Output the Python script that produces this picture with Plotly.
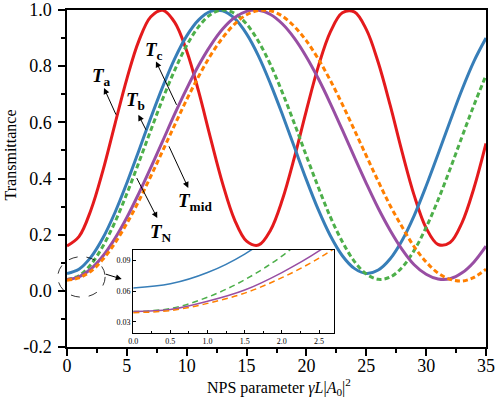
import plotly.graph_objects as go

# NPS parameter (main axis) at integer steps
nps_param = list(range(0, 36))

t_a = [0.160, 0.193, 0.288, 0.428, 0.593, 0.755, 0.890, 0.976, 0.999, 0.956,
       0.854, 0.709, 0.542, 0.382, 0.253, 0.177, 0.163, 0.216, 0.326, 0.476,
       0.643, 0.800, 0.922, 0.990, 0.993, 0.931, 0.813, 0.660, 0.493, 0.340,
       0.224, 0.165, 0.172, 0.243, 0.367, 0.525]
t_b = [0.062, 0.077, 0.120, 0.188, 0.278, 0.384, 0.499, 0.616, 0.727, 0.827,
       0.908, 0.965, 0.995, 0.997, 0.970, 0.915, 0.836, 0.737, 0.627, 0.511,
       0.395, 0.288, 0.196, 0.125, 0.080, 0.062, 0.074, 0.114, 0.180, 0.268,
       0.373, 0.487, 0.604, 0.717, 0.818, 0.900]
t_n = [0.040, 0.054, 0.094, 0.159, 0.244, 0.346, 0.457, 0.572, 0.684, 0.786,
       0.874, 0.941, 0.984, 1.000, 0.988, 0.950, 0.888, 0.805, 0.705, 0.595,
       0.480, 0.368, 0.263, 0.175, 0.105, 0.060, 0.041, 0.049, 0.084, 0.144,
       0.226, 0.324, 0.434, 0.549, 0.662, 0.767]
t_c = [0.040, 0.050, 0.078, 0.124, 0.186, 0.261, 0.347, 0.439, 0.534, 0.630,
       0.720, 0.803, 0.874, 0.932, 0.973, 0.995, 0.999, 0.984, 0.950, 0.899,
       0.833, 0.755, 0.667, 0.573, 0.477, 0.383, 0.294, 0.215, 0.147, 0.093,
       0.059, 0.042, 0.043, 0.064, 0.103, 0.159]
t_mid = [0.038, 0.046, 0.070, 0.112, 0.170, 0.240, 0.320, 0.408, 0.499, 0.591,
         0.681, 0.764, 0.839, 0.901, 0.950, 0.983, 0.998, 0.997, 0.978, 0.941,
         0.890, 0.825, 0.749, 0.664, 0.573, 0.481, 0.390, 0.303, 0.227, 0.157,
         0.103, 0.063, 0.041, 0.035, 0.048, 0.077]

# zoomed inset, 0 .. 3
inset_x = [0.0, 0.5, 1.0, 1.5, 2.0, 2.5, 3.0]
inset_b = [0.063, 0.067, 0.078, 0.096, 0.122, 0.155, 0.196]
inset_n = [0.040, 0.043, 0.054, 0.071, 0.094, 0.125, 0.162]
inset_c = [0.040, 0.042, 0.050, 0.061, 0.078, 0.099, 0.126]
inset_mid = [0.039, 0.041, 0.048, 0.058, 0.073, 0.092, 0.116]

y_ticks = [-0.2, 0.0, 0.2, 0.4, 0.6, 0.8, 1.0]
y_ticktext = ["-0.2", "0.0", "0.2", "0.4", "0.6", "0.8", "1.0"]

RED, BLUE, GREEN, PURPLE, ORANGE = "#E41A1C", "#377EB8", "#4DAF4A", "#984EA3", "#FF7F00"
FONT = "Liberation Serif"

fig = go.Figure()

main = [
    (t_a, RED, "solid"),
    (t_b, BLUE, "solid"),
    (t_n, GREEN, "5px,3px"),
    (t_c, PURPLE, "solid"),
    (t_mid, ORANGE, "5px,3px"),
]
for ys, col, dash in main:
    fig.add_trace(go.Scatter(
        x=nps_param, y=ys, mode="lines",
        line=dict(color=col, width=3, dash=dash, shape="spline"),
        xaxis="x", yaxis="y",
    ))

inset = [
    (inset_b, BLUE, "solid"),
    (inset_n, GREEN, "6px,4px"),
    (inset_c, PURPLE, "solid"),
    (inset_mid, ORANGE, "6px,4px"),
]
for ys, col, dash in inset:
    fig.add_trace(go.Scatter(
        x=inset_x, y=ys, mode="lines",
        line=dict(color=col, width=1.5, dash=dash, shape="spline"),
        xaxis="x2", yaxis="y2",
    ))


def lbl(main_txt, sub):
    return f"<b><i>{main_txt}</i></b><b><sub>{sub}</sub></b>"


labels = [
    ("a", 2.84, 0.763),
    ("b", 5.76, 0.677),
    ("c", 7.27, 0.855),
    ("mid", 10.69, 0.317),
    ("N", 7.85, 0.207),
]
annotations = []
for sub, lx, ly in labels:
    annotations.append(dict(
        text=lbl("T", sub), x=lx, y=ly, xref="x", yref="y",
        showarrow=False, font=dict(family=FONT, size=19, color="black"),
    ))

# arrows: (head x, head y, tail x, tail y)
arrows = [
    (3.09, 0.722, 4.15, 0.622),
    (5.96, 0.627, 6.66, 0.568),
    (7.43, 0.817, 9.21, 0.657),
    (10.13, 0.366, 8.46, 0.520),
    (7.54, 0.259, 5.76, 0.407),
    (4.57, 0.042, 3.12, 0.061),
]
for hx, hy, tx, ty in arrows:
    annotations.append(dict(
        text="", x=hx, y=hy, ax=tx, ay=ty, xref="x", yref="y",
        axref="x", ayref="y", showarrow=True, arrowhead=2,
        arrowsize=1.2, arrowwidth=1, arrowcolor="black", standoff=0,
    ))

annotations.append(dict(
    text="Transmittance", x=-0.134, y=0.571, xref="paper", yref="paper",
    xanchor="center", yanchor="middle",
    textangle=-90, showarrow=False, font=dict(family=FONT, size=16, color="black"),
))
annotations.append(dict(
    text="NPS parameter <i>γL</i>|<i>A</i><sub>0</sub>|<sup>2</sup>",
    x=0.506, y=-0.119, xref="paper", yref="paper", showarrow=False,
    xanchor="center", yanchor="middle",
    font=dict(family=FONT, size=16, color="black"),
))

fig.update_layout(
    template="none",
    width=498,
    height=402,
    margin=dict(l=67, r=12, t=10, b=55),
    showlegend=False,
    plot_bgcolor="white",
    paper_bgcolor="white",
    font=dict(family=FONT, color="black"),
    xaxis=dict(
        range=[0, 35], dtick=5, tick0=0, automargin=False,
        showgrid=False, zeroline=False,
        showline=True, linecolor="black", linewidth=1.5, mirror=True,
        ticks="outside", ticklen=7, tickwidth=1.5, tickcolor="black",
        ticklabelstandoff=-5,
        tickfont=dict(family=FONT, size=18, color="black"),
        minor=dict(ticks="outside", ticklen=4, dtick=2.5, tick0=0, tickcolor="black", showgrid=False),
    ),
    yaxis=dict(
        range=[-0.2, 1.0], tickvals=y_ticks, ticktext=y_ticktext, automargin=False,
        showgrid=False, zeroline=False,
        showline=True, linecolor="black", linewidth=1.5, mirror=True,
        ticks="outside", ticklen=7, tickwidth=1.5, tickcolor="black",
        ticklabelstandoff=3,
        tickfont=dict(family=FONT, size=18, color="black"),
        minor=dict(ticks="outside", ticklen=4, dtick=0.1, tick0=0, tickcolor="black", showgrid=False),
    ),
    xaxis2=dict(
        domain=[0.158, 0.637], anchor="y2", automargin=False,
        range=[0, 2.7], dtick=0.5, tick0=0, tickformat=".1f",
        showgrid=False, zeroline=False,
        showline=True, linecolor="black", linewidth=1, mirror=True,
        ticks="inside", ticklen=3, tickcolor="black",
        tickfont=dict(family=FONT, size=8, color="black"),
        minor=dict(ticks="inside", ticklen=2, dtick=0.25, tick0=0, tickcolor="black", showgrid=False),
    ),
    yaxis2=dict(
        domain=[0.041, 0.288], anchor="x2", automargin=False,
        range=[0.019, 0.1], dtick=0.03, tick0=0, tickformat=".2f",
        showgrid=False, zeroline=False,
        showline=True, linecolor="black", linewidth=1, mirror=True,
        ticks="inside", ticklen=3, tickcolor="black",
        tickfont=dict(family=FONT, size=8, color="black"),
    ),
    annotations=annotations,
    shapes=[dict(
        type="circle", xref="paper", yref="paper",
        x0=-0.022, x1=0.091, y0=0.148, y1=0.268,
        line=dict(color="black", width=0.8, dash="dash"),
    )],
)

# the page's default body margin would push the figure 8px right and down
fig.write_html(
    "out.html",
    config={"displayModeBar": False},
    post_script="document.body.style.margin = '0';",
)
